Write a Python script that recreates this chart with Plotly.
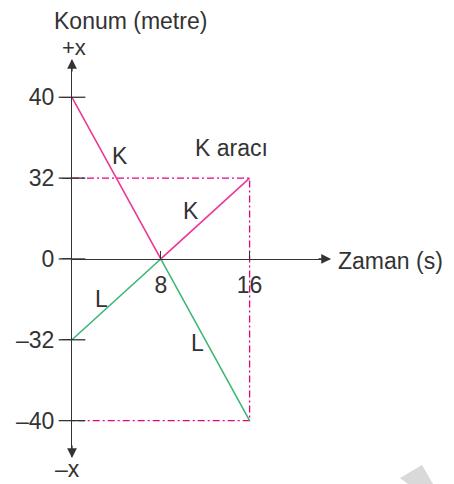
import plotly.graph_objects as go

# ---------------- data ----------------
time_s = [0, 8, 16]
k_pos = [40, 0, 32]          # K aracı konumu (m)
l_pos = [-32, 0, -40]        # L aracı konumu (m)
guide_t = [0, 16, 16, 0]
guide_pos = [32, 32, -40, -40]
y_levels = [-40, -32, 0, 32, 40]
y_labels = ["–40", "–32", "0", "32", "40"]
x_ticks = [8, 16]
x_labels = ["8", "16"]

# ---------------- layout helpers ----------------
# the page body has an 8px margin, so the figure is drawn 8px in from the window edge
OFF = 8
W, H = 454 - OFF, 484 - OFF
def px(x):
    return (x - OFF) / W
def py(y):
    return 1 - (y - OFF) / H

PINK = "#ec3a94"
GUIDE = "#e5007e"
GREEN = "#3cb774"
INK = "#333333"
FONT = "Liberation Sans, Arial, sans-serif"
FS = 23

y_dom = [py(457), py(60)]
y_rng = [-0.45, 4.461]
zero_idx = y_levels.index(0)
x_axis_pos = y_dom[0] + (zero_idx - y_rng[0]) / (y_rng[1] - y_rng[0]) * (y_dom[1] - y_dom[0])
x_dom = [px(72), px(330)]
x_rng = [0, (330 - 72) / 11.1]

fig = go.Figure()
fig.add_trace(go.Scatter(x=guide_t, y=guide_pos, mode="lines",
                         line=dict(color=GUIDE, width=1.3, dash="7px,3px,2px,3px"),
                         hoverinfo="skip", cliponaxis=False))
fig.add_trace(go.Scatter(x=time_s, y=k_pos, mode="lines",
                         line=dict(color=PINK, width=1.6), name="K"))
fig.add_trace(go.Scatter(x=time_s, y=l_pos, mode="lines",
                         line=dict(color=GREEN, width=1.6), name="L"))
fig.add_trace(go.Scatter(x=[0] * len(y_levels), y=y_levels, mode="markers",
                         marker=dict(symbol="line-ew", size=19,
                                     line=dict(color=INK, width=1.3)),
                         hoverinfo="skip", cliponaxis=False))

ann = []
def text(t, x, y, xanchor="center", size=FS):
    ann.append(dict(text=t, x=px(x), y=py(y), xref="paper", yref="paper",
                    showarrow=False, xanchor=xanchor, yanchor="middle",
                    font=dict(family=FONT, size=size, color=INK)))

text("Konum (metre)", 130.5, 20.5)
text("+x", 73.5, 47.5, size=22)
text("–x", 67, 469)
text("Zaman (s)", 336, 261, xanchor="left")
text("K", 120, 156)
text("K aracı", 231, 148)
text("K", 191, 211)
text("L", 101, 299)
text("L", 197, 343)

def arrow(x, y, ax, ay):
    ann.append(dict(text="", x=x, y=y, xref="paper", yref="paper",
                    ax=ax, ay=ay, showarrow=True, arrowhead=2, arrowsize=1.5,
                    arrowwidth=1.3, arrowcolor=INK, standoff=0))

arrow(px(331), x_axis_pos, -14, 0)
arrow(px(72), py(59), 0, 14)
arrow(px(72), py(458), 0, -14)

fig.update_layout(
    width=W, height=H, margin=dict(l=0, r=0, t=0, b=0),
    paper_bgcolor="white", plot_bgcolor="white", showlegend=False,
    font=dict(family=FONT, size=FS, color=INK),
    annotations=ann,
    shapes=[dict(type="path", xref="paper", yref="paper",
                 path=f"M {px(400)} {py(478)} L {px(422)} {py(465)} L {px(433)} {py(484)} L {px(408)} {py(484)} Z",
                 fillcolor="#d9d9d9", line=dict(width=0), layer="below")],
    xaxis=dict(domain=x_dom, range=x_rng, anchor="free", position=x_axis_pos,
               showline=True, linecolor=INK, linewidth=1.3,
               ticks="inside", ticklen=8, tickwidth=1.3, tickcolor=INK,
               tickvals=x_ticks, ticktext=x_labels, ticklabelstandoff=5,
               showgrid=False, zeroline=False,
               tickfont=dict(family=FONT, size=FS, color=INK)),
    yaxis=dict(type="category", categoryorder="array", categoryarray=y_levels,
               domain=y_dom, range=y_rng, anchor="x",
               showline=True, linecolor=INK, linewidth=1.3,
               ticks="outside", ticklen=9, tickwidth=1.3, tickcolor=INK,
               tickvals=y_levels, ticktext=y_labels,
               ticklabelstandoff=3,
               showgrid=False, zeroline=False,
               tickfont=dict(family=FONT, size=FS, color=INK)),
)

fig.write_html("out.html")
